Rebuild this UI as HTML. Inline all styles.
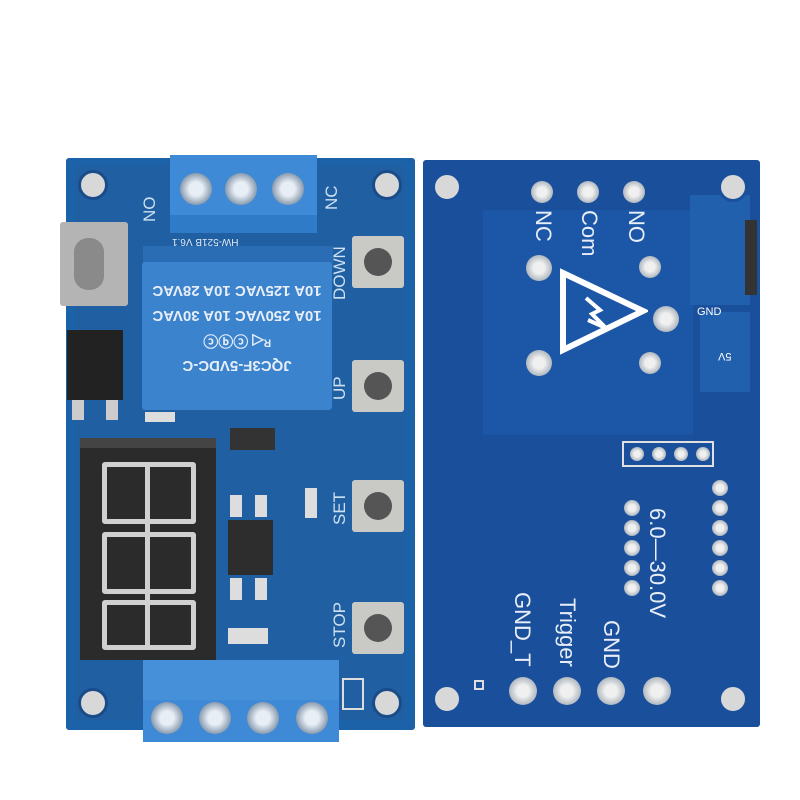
<!DOCTYPE html>
<html><head><meta charset="utf-8"><style>
body{margin:0;width:800px;height:800px;background:#fff;position:relative;overflow:hidden;font-family:"Liberation Sans",sans-serif}
div{position:absolute;box-sizing:border-box}
.hole{width:30px;height:30px;border-radius:50%;background:#d8d8d8;border:3px solid #1a4c8a}
.scr{width:32px;height:32px;border-radius:50%;background:radial-gradient(circle,#e8eef5 30%,#8a9cb0 70%,#2a3d5a 100%)}
.btn{width:52px;height:52px;background:#c9c9c6;border-radius:3px}
.btn:after{content:"";position:absolute;left:12px;top:12px;width:28px;height:28px;border-radius:50%;background:#555}
.pad{width:22px;height:22px;border-radius:50%;background:radial-gradient(circle,#f0f0f0 30%,#b0b8c0 70%,#1d3e70 100%)}
.rt{color:#e8eef8;font-size:22px;transform-origin:left top;transform:rotate(90deg);white-space:nowrap}
.lt{color:#cfe0f2;font-size:17px;transform-origin:left top;transform:rotate(-90deg);white-space:nowrap}
</style></head><body>
<!-- LEFT BOARD -->
<div style="left:66px;top:158px;width:349px;height:572px;background:#1c62a8;border-radius:3px"></div>
<div style="left:75px;top:165px;width:330px;height:555px;background:#1f5fa2"></div>
<div class="hole" style="left:78px;top:170px"></div>
<div class="hole" style="left:372px;top:170px"></div>
<div class="hole" style="left:78px;top:688px"></div>
<div class="hole" style="left:372px;top:688px"></div>
<!-- top terminal -->
<div style="left:170px;top:155px;width:147px;height:78px;background:#3e8ad6"></div>
<div style="left:170px;top:215px;width:147px;height:18px;background:#2f7bc8"></div>
<div class="scr" style="left:180px;top:173px"></div>
<div class="scr" style="left:225px;top:173px"></div>
<div class="scr" style="left:272px;top:173px"></div>
<div class="lt" style="left:140px;top:222px">NO</div>
<div class="lt" style="left:322px;top:210px">NC</div>
<div style="left:172px;top:236px;font-size:10px;color:#e0e8f5;transform:rotate(180deg)">HW-521B V6.1</div>
<!-- usb -->
<div style="left:60px;top:222px;width:68px;height:84px;background:#b4b4b4;border-radius:3px"></div>
<div style="left:74px;top:238px;width:30px;height:52px;background:#8a8a8a;border-radius:14px"></div>
<!-- regulator -->
<div style="left:67px;top:330px;width:56px;height:70px;background:#222"></div>
<div style="left:72px;top:400px;width:12px;height:20px;background:#ccc"></div>
<div style="left:106px;top:400px;width:12px;height:20px;background:#ccc"></div>
<!-- relay -->
<div style="left:143px;top:246px;width:190px;height:20px;background:#2a6db5"></div>
<div style="left:142px;top:262px;width:190px;height:148px;background:#3b83cd;border-radius:3px"></div>
<div style="left:148px;top:278px;width:178px;font-size:15px;color:#e8eef8;line-height:25px;transform:rotate(180deg);text-align:center;font-weight:bold">JQC3F-5VDC-C<br>ᴿ◁ ⓒⓠⓒ<br>10A 250VAC 10A 30VAC<br>10A 125VAC 10A 28VAC</div>
<div style="left:145px;top:412px;width:30px;height:10px;background:#ddd"></div>
<div style="left:230px;top:428px;width:45px;height:22px;background:#333"></div>
<!-- display -->
<div style="left:80px;top:438px;width:136px;height:222px;background:#2b2b2b"></div>
<div style="left:80px;top:438px;width:136px;height:10px;background:#444"></div>
<div style="left:102px;top:462px;width:94px;height:62px;border:5px solid #d0d0d0;border-radius:3px"></div>
<div style="left:102px;top:532px;width:94px;height:62px;border:5px solid #d0d0d0;border-radius:3px"></div>
<div style="left:102px;top:600px;width:94px;height:50px;border:5px solid #d0d0d0;border-radius:3px"></div>
<div style="left:145px;top:462px;width:5px;height:188px;background:#d0d0d0"></div>
<!-- chip -->
<div style="left:228px;top:520px;width:45px;height:55px;background:#2d2d2d"></div>
<div style="left:230px;top:495px;width:12px;height:22px;background:#ddd"></div>
<div style="left:255px;top:495px;width:12px;height:22px;background:#ddd"></div>
<div style="left:230px;top:578px;width:12px;height:22px;background:#ddd"></div>
<div style="left:255px;top:578px;width:12px;height:22px;background:#ddd"></div>
<div style="left:228px;top:628px;width:40px;height:16px;background:#ddd"></div>
<div style="left:305px;top:488px;width:12px;height:30px;background:#ddd"></div>
<!-- buttons -->
<div class="btn" style="left:352px;top:236px"></div>
<div class="btn" style="left:352px;top:360px"></div>
<div class="btn" style="left:352px;top:480px"></div>
<div class="btn" style="left:352px;top:602px"></div>
<div class="lt" style="left:330px;top:300px">DOWN</div>
<div class="lt" style="left:330px;top:400px">UP</div>
<div class="lt" style="left:330px;top:525px">SET</div>
<div class="lt" style="left:330px;top:648px">STOP</div>
<!-- bottom terminal -->
<div style="left:143px;top:660px;width:196px;height:82px;background:#3e8ad6"></div>
<div style="left:143px;top:660px;width:196px;height:40px;background:#4690da"></div>
<div class="scr" style="left:151px;top:702px"></div>
<div class="scr" style="left:199px;top:702px"></div>
<div class="scr" style="left:247px;top:702px"></div>
<div class="scr" style="left:296px;top:702px"></div>
<div style="left:342px;top:678px;width:22px;height:32px;border:2px solid #ddd"></div>
<!-- RIGHT BOARD -->
<div style="left:423px;top:160px;width:337px;height:567px;background:#1a4f9c;border-radius:3px"></div>
<div style="left:483px;top:210px;width:210px;height:225px;background:#1c56a6"></div>
<div style="left:690px;top:195px;width:60px;height:110px;background:#2160ad"></div>
<div style="left:745px;top:220px;width:12px;height:75px;background:#333"></div>
<div style="left:700px;top:312px;width:50px;height:80px;background:#2160ad"></div>
<div class="hole" style="left:432px;top:172px;border-color:#1a4f9c"></div>
<div class="hole" style="left:718px;top:172px;border-color:#1a4f9c"></div>
<div class="hole" style="left:432px;top:684px;border-color:#1a4f9c"></div>
<div class="hole" style="left:718px;top:684px;border-color:#1a4f9c"></div>
<div class="pad" style="left:531px;top:181px"></div>
<div class="pad" style="left:577px;top:181px"></div>
<div class="pad" style="left:623px;top:181px"></div>
<div class="pad" style="left:526px;top:255px;width:26px;height:26px"></div>
<div class="pad" style="left:639px;top:256px"></div>
<div class="pad" style="left:653px;top:306px;width:26px;height:26px"></div>
<div class="pad" style="left:526px;top:350px;width:26px;height:26px"></div>
<div class="pad" style="left:639px;top:352px"></div>
<div class="rt" style="left:556px;top:210px">NC</div>
<div class="rt" style="left:602px;top:210px">Com</div>
<div class="rt" style="left:649px;top:210px">NO</div>
<svg style="position:absolute;left:558px;top:268px" width="90" height="90"><polygon points="5,5 85,43 5,82" fill="none" stroke="#fff" stroke-width="6"/><path d="M28 30 L42 42 L34 46 L48 60 L30 52" fill="none" stroke="#fff" stroke-width="4"/></svg>
<div style="left:697px;top:306px;font-size:11px;color:#fff">GND</div>
<div style="left:718px;top:350px;font-size:11px;color:#fff;transform:rotate(180deg)">5V</div>
<div style="left:622px;top:441px;width:92px;height:26px;border:2px solid #e0e0e0"></div>
<div class="pad" style="left:630px;top:447px;width:14px;height:14px"></div>
<div class="pad" style="left:652px;top:447px;width:14px;height:14px"></div>
<div class="pad" style="left:674px;top:447px;width:14px;height:14px"></div>
<div class="pad" style="left:696px;top:447px;width:14px;height:14px"></div>
<div class="pad" style="left:624px;top:500px;width:16px;height:16px"></div>
<div class="pad" style="left:624px;top:520px;width:16px;height:16px"></div>
<div class="pad" style="left:624px;top:540px;width:16px;height:16px"></div>
<div class="pad" style="left:624px;top:560px;width:16px;height:16px"></div>
<div class="pad" style="left:624px;top:580px;width:16px;height:16px"></div>
<div class="pad" style="left:712px;top:480px;width:16px;height:16px"></div>
<div class="pad" style="left:712px;top:500px;width:16px;height:16px"></div>
<div class="pad" style="left:712px;top:520px;width:16px;height:16px"></div>
<div class="pad" style="left:712px;top:540px;width:16px;height:16px"></div>
<div class="pad" style="left:712px;top:560px;width:16px;height:16px"></div>
<div class="pad" style="left:712px;top:580px;width:16px;height:16px"></div>
<div class="rt" style="left:535px;top:592px">GND_T</div>
<div class="rt" style="left:580px;top:598px">Trigger</div>
<div class="rt" style="left:624px;top:620px">GND</div>
<div class="rt" style="left:670px;top:508px">6.0—30.0V</div>
<div class="pad" style="left:509px;top:677px;width:28px;height:28px"></div>
<div class="pad" style="left:553px;top:677px;width:28px;height:28px"></div>
<div class="pad" style="left:597px;top:677px;width:28px;height:28px"></div>
<div class="pad" style="left:643px;top:677px;width:28px;height:28px"></div>
<div style="left:474px;top:680px;width:10px;height:10px;border:2px solid #ddd"></div>
</body></html>
